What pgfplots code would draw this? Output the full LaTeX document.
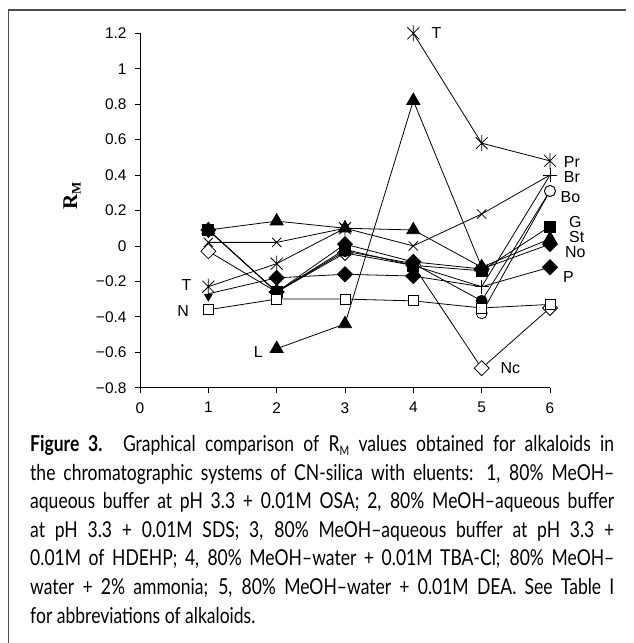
\documentclass[border=0pt]{standalone}
\usepackage{fontspec}
\setmainfont{Liberation Sans}
\newfontfamily\capfont[FakeStretch=0.80]{Lato}
\newfontfamily\serifb{Liberation Serif}
\usepackage{pgfplots}
\pgfplotsset{compat=1.18}

% Excel-style star: an X with a vertical bar
\pgfdeclareplotmark{xstar}{%
  \pgfpathmoveto{\pgfqpoint{0pt}{\pgfplotmarksize}}%
  \pgfpathlineto{\pgfqpoint{0pt}{-\pgfplotmarksize}}%
  \pgfpathmoveto{\pgfqpoint{-.75\pgfplotmarksize}{-.75\pgfplotmarksize}}%
  \pgfpathlineto{\pgfqpoint{.75\pgfplotmarksize}{.75\pgfplotmarksize}}%
  \pgfpathmoveto{\pgfqpoint{-.75\pgfplotmarksize}{.75\pgfplotmarksize}}%
  \pgfpathlineto{\pgfqpoint{.75\pgfplotmarksize}{-.75\pgfplotmarksize}}%
  \pgfusepathqstroke}

\newcommand{\capline}[2]{\node[anchor=base west, inner sep=0pt] at (30bp,#1bp)
  {\capfont\fontsize{22}{26}\selectfont\makebox[584bp][s]{#2}};}

\begin{document}
\begin{tikzpicture}
\path[use as bounding box] (0,0) rectangle (634bp,643bp);
\draw[line width=1.5bp, black!70] (8.5bp,0bp) -- (8.5bp,633bp) -- (626bp,633bp);

\begin{axis}[
  at={(140bp,255.3bp)}, anchor=south west,
  scale only axis, width=410bp, height=354.4bp,
  xmin=0, xmax=6, ymin=-0.8, ymax=1.2,
  axis x line=bottom, axis y line=left,
  axis line style={-, line width=0.8bp},
  xtick={0,1,2,3,4,5,6},
  ytick={-0.8,-0.6,-0.4,-0.2,0,0.2,0.4,0.6,0.8,1,1.2},
  yticklabels={−0.8,−0.6,−0.4,−0.2,0,0.2,0.4,0.6,0.8,1,1.2},
  tick align=outside, major tick length=5bp,
  tick style={line width=0.8bp, black},
  /pgf/number format/assume math mode=true,
  tick label style={font=\fontsize{15.5}{18}\selectfont},
  xticklabel style={yshift=-6bp},
  yticklabel style={xshift=-5bp},
  clip=false,
  every axis plot/.append style={black, line width=0.8bp, mark options={solid, line width=0.8bp}},
]
% Nc (open diamond)
\addplot[mark=square*, mark size=5.3bp, mark options={rotate=45, fill=white}]
  coordinates {(1,-0.03) (2,-0.26) (3,-0.04) (4,-0.11) (5,-0.69) (6,-0.35)};
% L (filled triangle)
\addplot[mark=triangle*, mark size=7.5bp]
  coordinates {(2,-0.58) (3,-0.44) (4,0.82) (5,-0.12)};
% T (star, left)
\addplot[mark=xstar, mark size=8bp]
  coordinates {(1,-0.23) (2,-0.10) (3,0.10)};
% T / Pr (star, right)
\addplot[mark=xstar, mark size=8bp]
  coordinates {(4,1.2) (5,0.58) (6,0.48)};
% x series
\addplot[mark=x, mark size=6.5bp]
  coordinates {(1,0.02) (2,0.02) (3,0.10) (4,0.0) (5,0.18)};
\addplot[no marks] coordinates {(5,0.18) (6,0.40)};
% Br (plus)
\addplot[mark=+, mark size=7bp, mark indices={2,3}]
  coordinates {(4,-0.11) (5,-0.23) (6,0.40)};
% filled circle
\addplot[mark=*, mark size=5.5bp]
  coordinates {(1,0.09) (2,-0.26) (3,-0.03) (4,-0.10) (5,-0.31) (6,0.31)};
% Bo (open circle)
\addplot[mark=*, mark size=5.5bp, mark options={fill=white}]
  coordinates {(5,-0.38) (6,0.31)};
% No (filled diamond)
\addplot[mark=square*, mark size=5.3bp, mark options={rotate=45}]
  coordinates {(1,0.09) (2,-0.26) (3,0.01) (4,-0.09) (5,-0.13) (6,0.01)};
% G (filled square)
\addplot[mark=square*, mark size=5.5bp]
  coordinates {(1,0.09) (2,-0.26) (3,-0.02) (4,-0.11) (5,-0.14) (6,0.11)};
% St (filled triangle)
\addplot[mark=triangle*, mark size=7.5bp]
  coordinates {(1,0.09) (2,0.14) (3,0.10) (4,0.09) (5,-0.12) (6,0.04)};
% P (filled diamond)
\addplot[mark=square*, mark size=5.3bp, mark options={rotate=45}, mark indices={2,3,4,6}]
  coordinates {(1,-0.27) (2,-0.18) (3,-0.16) (4,-0.17) (5,-0.23) (6,-0.12)};
\addplot[only marks, mark=triangle*, mark size=4.5bp, mark options={rotate=180}]
  coordinates {(1,-0.285)};
% N (open square)
\addplot[mark=square*, mark size=5bp, mark options={fill=white}]
  coordinates {(1,-0.36) (2,-0.30) (3,-0.30) (4,-0.31) (5,-0.35) (6,-0.33)};

\begin{scope}[every node/.style={font=\fontsize{16}{18}\selectfont, inner sep=0pt}]
\node at (axis cs:0.68,-0.22) {T};
\node at (axis cs:0.63,-0.37) {N};
\node at (axis cs:1.73,-0.596) {L};
\node at (axis cs:4.34,1.2) {T};
\node at (axis cs:6.32,0.476) {Pr};
\node at (axis cs:6.32,0.391) {Br};
\node at (axis cs:6.30,0.278) {Bo};
\node at (axis cs:6.37,0.137) {G};
\node at (axis cs:6.39,0.052) {St};
\node at (axis cs:6.37,-0.032) {No};
\node at (axis cs:6.27,-0.173) {P};
\node at (axis cs:5.42,-0.69) {Nc};
\end{scope}
\end{axis}

\node[rotate=90, font=\serifb\bfseries\fontsize{21}{24}\selectfont] at (72bp,447bp)
  {R\raisebox{-0.35ex}{\fontsize{13}{14}\selectfont M}};

\capline{191}{\textbf{Figure 3.} Graphical comparison of R\raisebox{-0.3ex}{\fontsize{13}{14}\selectfont M} values obtained for alkaloids in}
\capline{162.5}{the chromatographic systems of CN-silica with eluents: 1, 80\% MeOH–}
\capline{134}{aqueous buffer at pH 3.3 + 0.01M OSA; 2, 80\% MeOH–aqueous buffer}
\capline{105.5}{at pH 3.3 + 0.01M SDS; 3, 80\% MeOH–aqueous buffer at pH 3.3 +}
\capline{77}{0.01M of HDEHP; 4, 80\% MeOH–water + 0.01M TBA-Cl; 80\% MeOH–}
\capline{48.5}{water + 2\% ammonia; 5, 80\% MeOH–water + 0.01M DEA. See Table I}
\node[anchor=base west, inner sep=0pt] at (30bp,20bp)
  {\capfont\fontsize{22}{26}\selectfont for abbreviations of alkaloids.};
\end{tikzpicture}
\end{document}
